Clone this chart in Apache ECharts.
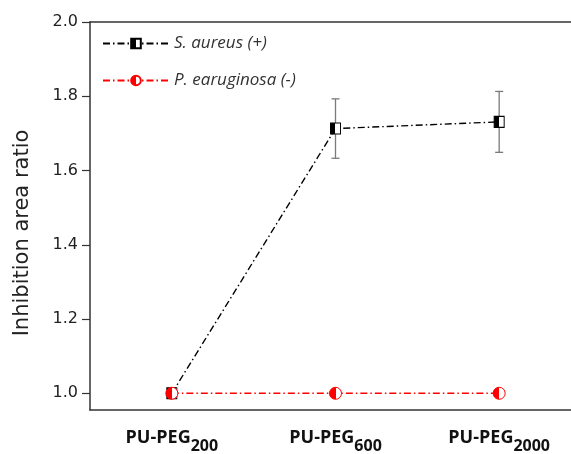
<!DOCTYPE html>
<html>
<head>
<meta charset="utf-8">
<script src="https://cdn.jsdelivr.net/npm/echarts@6/dist/echarts.min.js"></script>
<style>
  html, body { margin: 0; padding: 0; background: #fff; overflow: hidden; }
  /* plot area runs on past the right edge of the window */
  #chart { width: 581px; height: 454px; }
</style>
</head>
<body>
<div id="chart"></div>
<script>
// Sample groups on the x axis (base name + PEG molecular weight shown as subscript)
const categories = ['PU-PEG200', 'PU-PEG600', 'PU-PEG2000'];
const labelBase = 'PU-PEG';

// Inhibition area ratio per bacterium
const aureusValues = [1.0, 1.713, 1.731];
const aureusErrors = [0, 0.080, 0.082];
const aeruginosaValues = [1.0, 1.0, 1.0];

// Y axis ticks
const yTicks = [1.0, 1.2, 1.4, 1.6, 1.8, 2.0];

const seriesNames = ['S. aureus (+)', 'P. earuginosa (-)'];

const dashDot = [7, 3, 1.5, 3];

function halfFill(color) {
  return new echarts.graphic.LinearGradient(0, 0, 1, 0, [
    { offset: 0, color: color },
    { offset: 0.5, color: color },
    { offset: 0.5, color: '#ffffff' },
    { offset: 1, color: '#ffffff' }
  ]);
}

const errorData = aureusValues
  .map((v, i) => [i, v - aureusErrors[i], v + aureusErrors[i]])
  .filter((d, i) => aureusErrors[i] > 0);

const axisColor = '#333';

const chart = echarts.init(document.getElementById('chart'), null, { renderer: 'canvas' });

chart.setOption({
  animation: false,
  backgroundColor: '#ffffff',
  grid: { left: 90, top: 22, right: 0, bottom: 38 },
  legend: {
    orient: 'vertical',
    left: 97, top: 30,
    itemWidth: 66, itemHeight: 12, itemGap: 20,
    data: seriesNames,
    textStyle: { fontFamily: 'Open Sans', fontStyle: 'italic', fontSize: 17, color: '#333' }
  },
  xAxis: [
    {
      type: 'category',
      data: categories,
      boundaryGap: true,
      axisLine: { lineStyle: { color: axisColor, width: 1.5 } },
      axisTick: { alignWithLabel: true, length: 6, lineStyle: { color: axisColor, width: 1.2 } },
      axisLabel: {
        margin: 17,
        formatter: v => '{m|' + labelBase + '}{s|' + v.slice(labelBase.length) + '}',
        rich: {
          m: { fontFamily: 'Open Sans', fontWeight: 'bold', fontSize: 18, color: '#111', lineHeight: 22 },
          s: { fontFamily: 'Open Sans', fontWeight: 'bold', fontSize: 16, color: '#111', lineHeight: 22, padding: [16, 0, 0, 0] }
        }
      },
      splitLine: { show: false }
    },
    {
      // top frame line
      type: 'category',
      data: categories,
      position: 'top',
      axisLine: { show: true, lineStyle: { color: axisColor, width: 1.5 } },
      axisTick: { show: false },
      axisLabel: { show: false },
      splitLine: { show: false }
    }
  ],
  yAxis: {
    type: 'value',
    min: 0.955, max: 2.0,
    axisLine: { show: true, lineStyle: { color: axisColor, width: 1.5 } },
    axisTick: { show: true, length: 8, customValues: yTicks, lineStyle: { color: axisColor, width: 1.2 } },
    axisLabel: {
      customValues: yTicks,
      margin: 12,
      fontFamily: 'DejaVu Sans', fontSize: 16, color: '#222',
      formatter: v => v.toFixed(1)
    },
    splitLine: { show: false }
  },
  graphic: [{
    type: 'text',
    x: 23, y: 233,
    rotation: Math.PI / 2,
    style: {
      text: 'Inhibition area ratio',
      fontFamily: 'DejaVu Sans', fontSize: 21, fill: '#222',
      textAlign: 'center', textVerticalAlign: 'middle'
    }
  }],
  series: [
    {
      type: 'custom',
      name: 'error',
      silent: true,
      z: 1,
      data: errorData,
      renderItem: function (params, api) {
        const x = api.coord([api.value(0), 0])[0];
        const lo = api.coord([api.value(0), api.value(1)])[1];
        const hi = api.coord([api.value(0), api.value(2)])[1];
        const cap = 4;
        const st = { stroke: '#7a7a7a', lineWidth: 1.3 };
        return {
          type: 'group',
          children: [
            { type: 'line', shape: { x1: x, y1: lo, x2: x, y2: hi }, style: st },
            { type: 'line', shape: { x1: x - cap, y1: lo, x2: x + cap, y2: lo }, style: st },
            { type: 'line', shape: { x1: x - cap, y1: hi, x2: x + cap, y2: hi }, style: st }
          ]
        };
      }
    },
    {
      type: 'line',
      name: seriesNames[0],
      z: 3,
      data: aureusValues,
      symbol: 'rect',
      symbolSize: [10, 11],
      color: '#000',
      lineStyle: { color: '#000', width: 1.4, type: dashDot },
      itemStyle: { color: halfFill('#000'), borderColor: '#000', borderWidth: 1 }
    },
    {
      type: 'line',
      name: seriesNames[1],
      z: 4,
      data: aeruginosaValues,
      symbol: 'circle',
      symbolSize: 12,
      color: '#ff0000',
      lineStyle: { color: '#ff0000', width: 1.4, type: dashDot },
      itemStyle: { color: halfFill('#ff0000'), borderColor: '#ff0000', borderWidth: 1 }
    }
  ]
});
</script>
</body>
</html>
